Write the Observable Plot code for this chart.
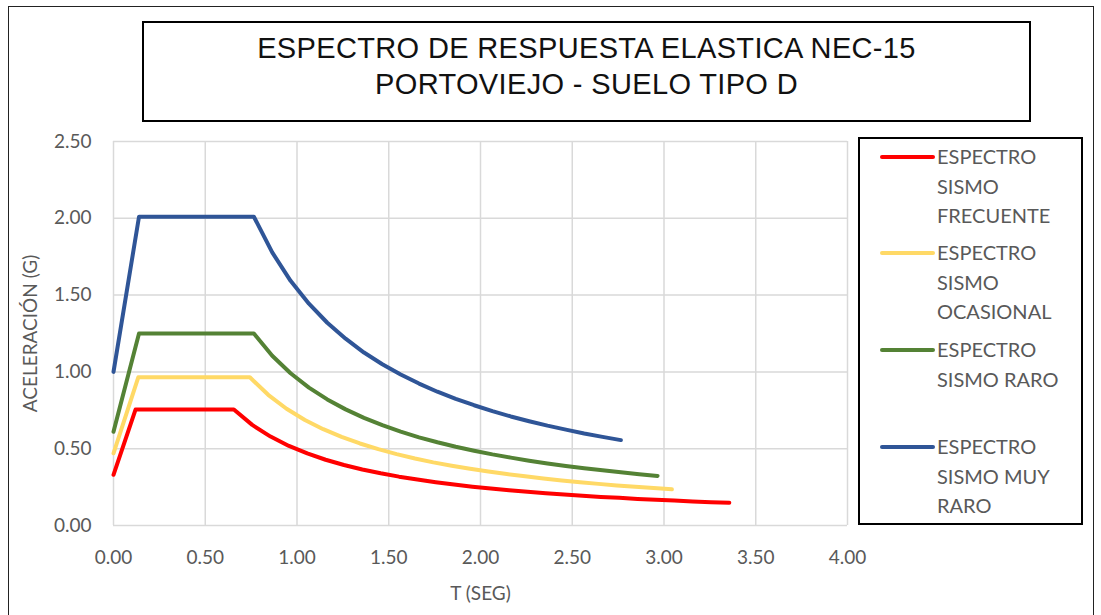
<!DOCTYPE html>
<html>
<head>
<meta charset="utf-8">
<script src="https://cdn.jsdelivr.net/npm/d3@7"></script>
<script src="https://cdn.jsdelivr.net/npm/@observablehq/plot@0.6"></script>
<style>
  html, body { margin: 0; padding: 0; background: #fff; }
  #wrap { position: relative; width: 1101px; height: 615px; overflow: hidden; background: #fff; }
  #outer { position: absolute; left: 8px; top: 6px; width: 1086px; height: 700px; border: 1.5px solid #222; box-sizing: border-box; }
  #chart { position: absolute; left: 0; top: 0; }
  #title { position: absolute; left: 142px; top: 21px; width: 889px; height: 101px; border: 2px solid #000; box-sizing: border-box;
           font-family: "Liberation Sans", Arial, sans-serif; font-size: 29px; letter-spacing: 0.35px; line-height: 35.5px; text-align: center; color: #111; padding-top: 8px; background: #fff; }
  #legend { position: absolute; left: 858px; top: 137px; width: 225px; height: 388px; border: 2px solid #000; box-sizing: border-box; background: #fff; }
  .swatch { position: absolute; left: 20px; width: 55px; height: 4px; border-radius: 2px; }
  .ltxt { position: absolute; left: 77px; width: 140px; font-family: Lato, sans-serif; font-size: 20px; line-height: 29.3px; color: #595959; }
</style>
</head>
<body>
<div id="wrap">
  <div id="outer"></div>
  <div id="chart"></div>
  <div id="title"></div>
  <div id="legend"></div>
</div>
<script>
// ---- Data ----
const titleLines = ["ESPECTRO DE RESPUESTA ELASTICA NEC-15", "PORTOVIEJO - SUELO TIPO D"];
const xLabel = "T (SEG)";
const yLabel = "ACELERACIÓN (G)";
const xTicks = [0, 0.5, 1, 1.5, 2, 2.5, 3, 3.5, 4];
const yTicks = [0, 0.5, 1, 1.5, 2, 2.5];
const seriesNames = ["ESPECTRO SISMO FRECUENTE", "ESPECTRO SISMO OCASIONAL", "ESPECTRO SISMO RARO", "ESPECTRO SISMO MUY RARO"];
const seriesColors = ["#FF0000", "#FFD966", "#548235", "#2F5597"];
const legendLines = [["ESPECTRO", "SISMO", "FRECUENTE"], ["ESPECTRO", "SISMO", "OCASIONAL"], ["ESPECTRO", "SISMO RARO"], ["ESPECTRO", "SISMO MUY", "RARO"]];

const tFrecuente = [0, 0.12, 0.656, 0.756, 0.856, 0.956, 1.056, 1.156, 1.256, 1.356, 1.456, 1.556, 1.656, 1.756, 1.856, 1.956, 2.056, 2.156, 2.256, 2.356, 2.456, 2.556, 2.656, 2.756, 2.856, 2.956, 3.056, 3.156, 3.256, 3.356];
const saFrecuente = [0.33, 0.755, 0.755, 0.655, 0.579, 0.518, 0.469, 0.428, 0.394, 0.365, 0.340, 0.318, 0.299, 0.282, 0.267, 0.253, 0.241, 0.230, 0.220, 0.210, 0.202, 0.194, 0.186, 0.180, 0.173, 0.168, 0.162, 0.157, 0.152, 0.148];

const tOcasional = [0, 0.135, 0.743, 0.843, 0.943, 1.043, 1.143, 1.243, 1.343, 1.443, 1.543, 1.643, 1.743, 1.843, 1.943, 2.043, 2.143, 2.243, 2.343, 2.443, 2.543, 2.643, 2.743, 2.843, 2.943, 3.043];
const saOcasional = [0.47, 0.965, 0.965, 0.851, 0.760, 0.687, 0.627, 0.577, 0.534, 0.497, 0.465, 0.436, 0.411, 0.389, 0.369, 0.351, 0.335, 0.320, 0.306, 0.293, 0.282, 0.271, 0.261, 0.252, 0.244, 0.236];

const tRaro = [0, 0.139, 0.765, 0.865, 0.965, 1.065, 1.165, 1.265, 1.365, 1.465, 1.565, 1.665, 1.765, 1.865, 1.965, 2.065, 2.165, 2.265, 2.365, 2.465, 2.565, 2.665, 2.765, 2.865, 2.965];
const saRaro = [0.61, 1.25, 1.25, 1.105, 0.991, 0.898, 0.821, 0.756, 0.701, 0.653, 0.611, 0.574, 0.542, 0.513, 0.487, 0.463, 0.442, 0.422, 0.404, 0.388, 0.373, 0.359, 0.346, 0.334, 0.323];

const tMuyRaro = [0, 0.139, 0.765, 0.865, 0.965, 1.065, 1.165, 1.265, 1.365, 1.465, 1.565, 1.665, 1.765, 1.865, 1.965, 2.065, 2.165, 2.265, 2.365, 2.465, 2.565, 2.665, 2.765];
const saMuyRaro = [1.00, 2.01, 2.01, 1.778, 1.593, 1.444, 1.320, 1.216, 1.126, 1.050, 0.983, 0.924, 0.871, 0.824, 0.783, 0.745, 0.710, 0.679, 0.650, 0.624, 0.599, 0.577, 0.556];

const seriesT = [tFrecuente, tOcasional, tRaro, tMuyRaro];
const seriesSa = [saFrecuente, saOcasional, saRaro, saMuyRaro];

const rows = seriesNames.flatMap((name, i) => seriesT[i].map((t, j) => ({serie: name, T: t, Sa: seriesSa[i][j]})));

// ---- Chart ----
const fmt = d3.format(".2f");
const gridStyle = {stroke: "#d9d9d9", strokeOpacity: 1, strokeWidth: 1.5};
const chart = Plot.plot({
  width: 1101,
  height: 615,
  marginLeft: 113,
  marginRight: 254,
  marginTop: 141,
  marginBottom: 90,
  style: {fontFamily: "Lato, sans-serif", fontSize: "19px", color: "#595959", background: "transparent", overflow: "visible"},
  x: {domain: [0, 4]},
  y: {domain: [0, 2.5]},
  color: {domain: seriesNames, range: seriesColors},
  marks: [
    Plot.gridX(xTicks, gridStyle),
    Plot.gridY(yTicks, gridStyle),
    Plot.axisX(xTicks, {tickSize: 0, tickPadding: 25, tickFormat: fmt, label: xLabel, labelAnchor: "center", labelOffset: 74, labelArrow: "none", fill: "#595959"}),
    Plot.axisY(yTicks, {tickSize: 0, tickPadding: 22, tickFormat: fmt, label: yLabel, labelAnchor: "center", labelOffset: 90, labelArrow: "none", fill: "#595959"}),
    Plot.line(rows, {x: "T", y: "Sa", z: "serie", stroke: "serie", strokeWidth: 4, strokeLinecap: "round", strokeLinejoin: "round"})
  ]
});
document.getElementById("chart").appendChild(chart);

// ---- Title ----
const titleEl = document.getElementById("title");
titleLines.forEach(t => { const d = document.createElement("div"); d.textContent = t; titleEl.appendChild(d); });

// ---- Legend ----
const legendEl = document.getElementById("legend");
const itemCenters = [157, 253, 350, 447];
seriesNames.forEach((name, i) => {
  const top = itemCenters[i] - 137 - 2;
  const sw = document.createElement("div");
  sw.className = "swatch";
  sw.style.background = seriesColors[i];
  sw.style.top = (top - 2) + "px";
  legendEl.appendChild(sw);
  const tx = document.createElement("div");
  tx.className = "ltxt";
  tx.style.top = (top - 14.65) + "px";
  tx.innerHTML = legendLines[i].join("<br>");
  tx.title = name;
  legendEl.appendChild(tx);
});
</script>
</body>
</html>
